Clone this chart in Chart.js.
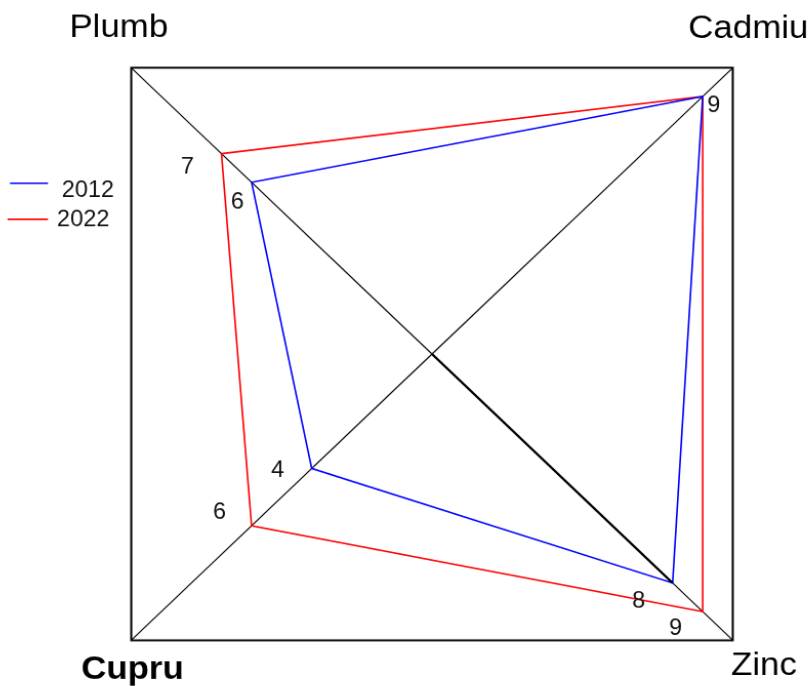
<!DOCTYPE html>
<html>
<head>
<meta charset="utf-8">
<script src="https://cdn.jsdelivr.net/npm/chart.js@4.4.0/dist/chart.umd.min.js"></script>
<style>
  html, body { margin: 0; padding: 0; background: #fff; overflow: hidden; width: 808px; height: 686px; }
  #wrap { position: absolute; left: -40px; top: -80px; width: 900px; height: 900px; }
</style>
</head>
<body>
<div id="wrap"><canvas id="chart" width="900" height="900"></canvas></div>
<script>
const axes = ['Plumb', 'Cadmiu', 'Zinc', 'Cupru'];
const years = ['2012', '2022'];
const values2012 = [6, 9, 8, 4];
const values2022 = [7, 9, 9, 6];
const scaleMin = 0;
const scaleMax = 10;
const colors = ['#0000ff', '#ff0000'];

// the canvas is bigger than the page so the square frame can reach the corners;
// the original frame is a bit wider than tall, so it is stretched a little
const WL = -40, WT = -80;      // wrapper offset on the page
const CX = 472, CY = 434;      // radar centre inside the canvas
const SX = 1.0249, SY = 0.9755;
const wrap = document.getElementById('wrap');
wrap.style.transformOrigin = CX + 'px ' + CY + 'px';
wrap.style.transform = 'scale(' + SX + ',' + SY + ')';

const toPage = (x, y) => ({ x: WL + CX + (x - CX) * SX, y: WT + CY + (y - CY) * SY });
const toCanvas = (x, y) => ({ x: CX + (x - WL - CX) / SX, y: CY + (y - WT - CY) / SY });

const FONT = "'Liberation Sans', Arial, sans-serif";

// where each value label sits relative to its point (null = not shown)
const valueNudge = [
  [[-14, 18], null, [-34, 17], [-34, 0]],
  [[-34, 12], [11, 8], [-27, 15], [-32, -15]]
];
// axis label placement relative to the frame corner
const axisPlace = [
  { dx: -12.5, dy: -30.5, align: 'center', bold: false },
  { dx: -44.5, dy: -29.5, align: 'left', bold: false },
  { dx: -1.7, dy: 35, align: 'left', bold: false },
  { dx: -50, dy: 39, align: 'left', bold: true }
];
const legendRows = [
  { lineX0: 10, lineX1: 48, lineY: 183.3, textX: 61.7, baseY: 196.5 },
  { lineX0: 7.5, lineX1: 48, lineY: 219.3, textX: 57, baseY: 226.5 }
];

const decor = {
  id: 'decor',
  afterDatasetsDraw(chart) {
    const ctx = chart.ctx;
    const r = chart.scales.r;
    ctx.save();

    // doubled spoke from the centre to the 2012 Zinc point
    const z = chart.getDatasetMeta(0).data[2];
    ctx.strokeStyle = '#000';
    ctx.lineWidth = 2.4;
    ctx.beginPath();
    ctx.moveTo(r.xCenter, r.yCenter);
    ctx.lineTo(z.x, z.y);
    ctx.stroke();

    // value labels
    ctx.fillStyle = '#111';
    ctx.font = '23px ' + FONT;
    ctx.textAlign = 'center';
    ctx.textBaseline = 'alphabetic';
    chart.data.datasets.forEach((ds, d) => {
      const meta = chart.getDatasetMeta(d);
      ds.data.forEach((v, i) => {
        const n = valueNudge[d][i];
        if (!n) return;
        const p = toPage(meta.data[i].x, meta.data[i].y);
        const c = toCanvas(p.x + n[0], p.y + n[1]);
        ctx.fillText(String(v), c.x, c.y + 8.2);
      });
    });

    // axis labels at the corners
    ctx.fillStyle = '#000';
    axes.forEach((name, i) => {
      const pl = axisPlace[i];
      const corner = r.getPointPosition(i, r.drawingArea);
      const p = toPage(corner.x, corner.y);
      const c = toCanvas(p.x + pl.dx, p.y + pl.dy);
      ctx.font = (pl.bold ? 'bold ' : '') + '34px ' + FONT;
      ctx.textAlign = pl.align;
      ctx.fillText(name, c.x, c.y);
    });

    // legend
    ctx.font = '23px ' + FONT;
    ctx.textAlign = 'left';
    chart.data.datasets.forEach((ds, d) => {
      const row = legendRows[d];
      const a = toCanvas(row.lineX0, row.lineY);
      const b = toCanvas(row.lineX1, row.lineY);
      ctx.strokeStyle = ds.borderColor;
      ctx.lineWidth = 1.6;
      ctx.beginPath();
      ctx.moveTo(a.x, a.y);
      ctx.lineTo(b.x, b.y);
      ctx.stroke();
      const t = toCanvas(row.textX, row.baseY);
      ctx.fillStyle = '#111';
      ctx.fillText(ds.label, t.x, t.y);
    });

    ctx.restore();
  }
};

new Chart(document.getElementById('chart'), {
  type: 'radar',
  data: {
    labels: axes,
    datasets: [
      { label: years[0], data: values2012, borderColor: colors[0], borderWidth: 1.6, pointRadius: 0, fill: false },
      { label: years[1], data: values2022, borderColor: colors[1], borderWidth: 1.6, pointRadius: 0, fill: false }
    ]
  },
  options: {
    responsive: false,
    animation: false,
    layout: { padding: { left: 57, right: 13, top: 19, bottom: 51 } },
    plugins: { legend: { display: false }, tooltip: { enabled: false } },
    elements: { line: { tension: 0 } },
    scales: {
      r: {
        min: scaleMin,
        max: scaleMax,
        startAngle: -45,
        ticks: { display: false, stepSize: scaleMax - scaleMin },
        grid: { color: '#000', lineWidth: 2 },
        angleLines: { color: '#000', lineWidth: 1.2 },
        pointLabels: { display: false }
      }
    }
  },
  plugins: [decor]
});
</script>
</body>
</html>
